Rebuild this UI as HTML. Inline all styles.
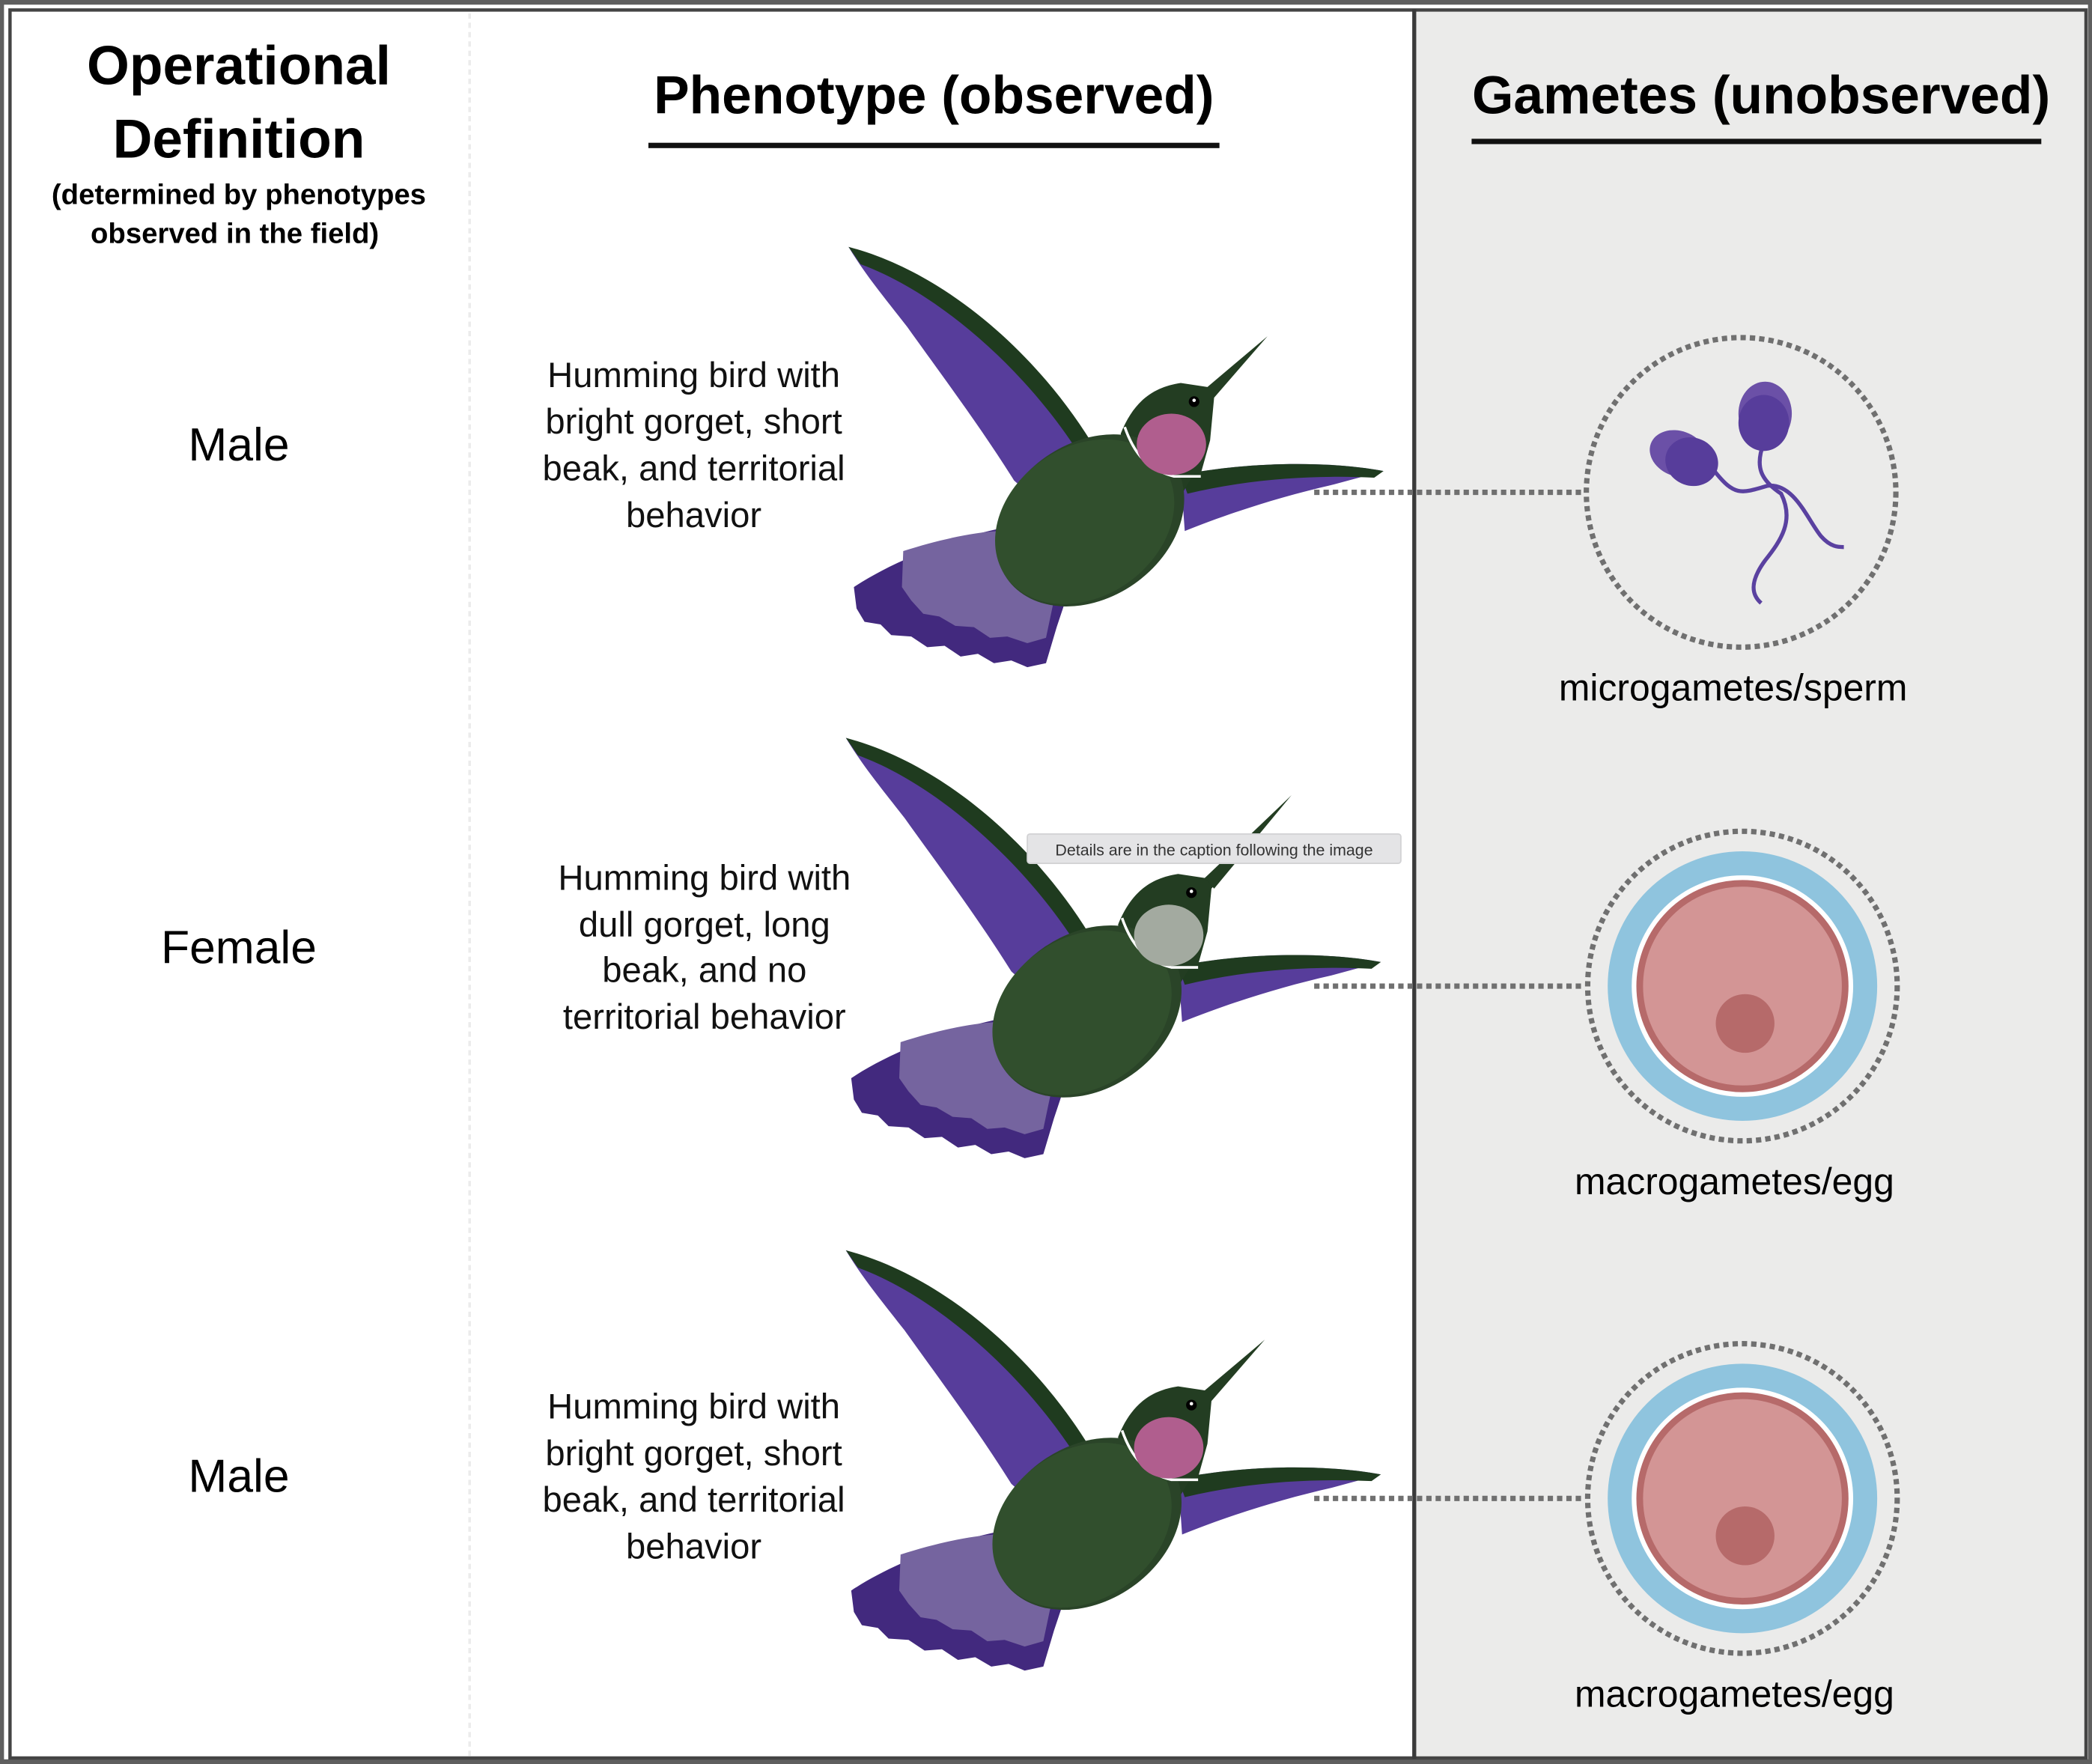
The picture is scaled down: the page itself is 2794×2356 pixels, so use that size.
<!DOCTYPE html>
<html><head><meta charset="utf-8"><style>
html,body{margin:0;padding:0;background:#fff}
svg{display:block}
text{font-family:"Liberation Sans","DejaVu Sans",sans-serif}
</style></head><body>
<svg width="2794" height="2356" viewBox="0 0 1568 1322" preserveAspectRatio="none" xmlns="http://www.w3.org/2000/svg">
<defs>
<g id="bird">
  <!-- upper wing -->
  <path d="M636,185 C710,210 780,270 822,338 L805,362 C790,372 770,370 760,360 C735,320 705,280 680,245 C662,222 648,205 636,185 Z" fill="#573d9b"/>
  <path d="M636,185 C712,205 782,270 822,338 L812,345 C772,280 705,220 645,198 Z" fill="#1f3b1f"/>
  <!-- tail -->
  <path d="M640,440 C670,420 715,403 750,396 L802,440 L792,470 L784,497 L770,500 L758,495 L745,497 L733,490 L720,492 L708,484 L695,485 L683,477 L668,476 L660,468 L648,466 L642,456 Z" fill="#42297e"/>
  <path d="M677,413 C705,404 730,399 748,398 L792,440 L784,478 L770,482 L755,477 L742,478 L730,470 L716,469 L704,462 L692,460 L683,450 L676,440 Z" fill="#75649f"/>
  <!-- right wing -->
  <path d="M885,356 C940,345 1000,346 1037,353 L1000,363 C960,372 920,385 888,398 Z" fill="#573d9b"/>
  <path d="M885,356 C940,345 1000,346 1037,353 L1030,358 C990,356 940,358 890,370 Z" fill="#1f3b1f"/>
  <!-- neck -->
  <path d="M810,338 L855,328 L895,355 L880,380 L840,365 Z" fill="#233d22"/>
  <!-- head -->
  <path d="M840,325 C850,300 865,290 885,287 L905,290 L950,252 L910,298 L907,330 L900,355 L870,356 L845,345 Z" fill="#233d22"/>
  <circle cx="895" cy="301" r="4" fill="#000"/><circle cx="895" cy="300" r="1.3" fill="#fff"/>
  <!-- body -->
  <ellipse cx="817" cy="390" rx="76" ry="58" transform="rotate(-35 817 390)" fill="#2a4428"/>
  <ellipse cx="813" cy="391" rx="72" ry="56" transform="rotate(-35 813 391)" fill="#314f2d"/>
  <path d="M843,320 C850,340 860,352 880,357 L900,357" fill="none" stroke="#fff" stroke-width="2"/>
</g>
</defs>
<rect x="0" y="0" width="1568" height="1322" fill="#5f5f5f"/>
<rect x="3" y="3.5" width="1562" height="1315" fill="#fff"/>
<rect x="1060" y="7" width="505" height="1311" fill="#ebebea"/>
<rect x="7.5" y="7.5" width="1556" height="1310" fill="none" stroke="#444" stroke-width="2.5"/>
<line x1="1060" y1="7" x2="1060" y2="1318" stroke="#3a3a3a" stroke-width="3"/>
<line x1="352" y1="10" x2="352" y2="1318" stroke="#ececec" stroke-width="2" stroke-dasharray="4,3"/>

<text x="179" y="63" font-size="41" font-weight="bold" text-anchor="middle">Operational</text>
<text x="179" y="118" font-size="41" font-weight="bold" text-anchor="middle">Definition</text>
<text x="179" y="153" font-size="21.5" font-weight="bold" text-anchor="middle">(determined by phenotypes</text>
<text x="176" y="182" font-size="21.5" font-weight="bold" text-anchor="middle">observed in the field)</text>

<text x="700" y="85" font-size="40" font-weight="bold" text-anchor="middle">Phenotype (observed)</text>
<rect x="486" y="107" width="428" height="4" fill="#111"/>
<text x="1320" y="85" font-size="40" font-weight="bold" text-anchor="middle">Gametes (unobserved)</text>
<rect x="1103" y="104" width="427" height="4" fill="#111"/>

<text x="179" y="345" font-size="35" text-anchor="middle">Male</text>
<text x="179" y="722" font-size="35" text-anchor="middle">Female</text>
<text x="179" y="1118" font-size="35" text-anchor="middle">Male</text>

<g font-size="26.5" text-anchor="middle" fill="#111">
<text x="520" y="290">Humming bird with</text>
<text x="520" y="325">bright gorget, short</text>
<text x="520" y="360">beak, and territorial</text>
<text x="520" y="395">behavior</text>
<text x="528" y="667">Humming bird with</text>
<text x="528" y="702">dull gorget, long</text>
<text x="528" y="736">beak, and no</text>
<text x="528" y="771">territorial behavior</text>
<text x="520" y="1063">Humming bird with</text>
<text x="520" y="1098">bright gorget, short</text>
<text x="520" y="1133">beak, and territorial</text>
<text x="520" y="1168">behavior</text>
</g>

<!-- connectors -->
<g stroke="#707070" stroke-width="4" stroke-dasharray="4,3">
<line x1="985" y1="369" x2="1188" y2="369"/>
<line x1="985" y1="739" x2="1188" y2="739"/>
<line x1="985" y1="1123" x2="1188" y2="1123"/>
</g>

<!-- birds -->
<use href="#bird"/>
<ellipse cx="878" cy="333" rx="26" ry="23" fill="#b05e8e"/>
<g transform="translate(-2,368)"><use href="#bird"/><ellipse cx="878" cy="333" rx="26" ry="23" fill="#a3aaa0"/>
<path d="M905,290 L970,228 L912,298 Z" fill="#233d22"/></g>
<g transform="translate(-2,752)"><use href="#bird"/><ellipse cx="878" cy="333" rx="26" ry="23" fill="#b05e8e"/></g>

<!-- tooltip -->
<rect x="770" y="625" width="280" height="22" rx="2" fill="#e4e4e6" stroke="#d2d2d4"/>
<text x="910" y="641" font-size="12" text-anchor="middle" fill="#333">Details are in the caption following the image</text>

<!-- sperm circle -->
<circle cx="1305" cy="369" r="116" fill="none" stroke="#707070" stroke-width="4" stroke-dasharray="4,3"/>
<g fill="none" stroke="#5a41a0" stroke-width="3">
<path d="M1285,353 C1300,372 1305,370 1325,364 C1345,362 1355,390 1365,402 C1372,410 1378,410 1382,410"/>
<path d="M1322,332 C1315,350 1320,360 1335,370 C1345,390 1335,405 1323,420 C1312,435 1312,445 1320,452"/>
</g>
<ellipse cx="1258" cy="340" rx="22" ry="17" transform="rotate(20 1258 340)" fill="#6b50a7"/>
<ellipse cx="1268" cy="346" rx="20" ry="18" transform="rotate(20 1268 346)" fill="#573d9b"/>
<ellipse cx="1323" cy="310" rx="20" ry="24" fill="#6b50a7"/>
<ellipse cx="1322" cy="317" rx="19" ry="21" fill="#573d9b"/>
<text x="1299" y="525" font-size="28" text-anchor="middle">microgametes/sperm</text>

<!-- eggs -->
<g>
<circle cx="1306" cy="739" r="116" fill="none" stroke="#707070" stroke-width="4" stroke-dasharray="4,3"/>
<circle cx="1306" cy="739" r="101" fill="#8fc4de"/>
<circle cx="1306" cy="739" r="83" fill="#fff"/>
<circle cx="1306" cy="739" r="77" fill="#d39595" stroke="#b66a6a" stroke-width="5"/>
<circle cx="1308" cy="767" r="22" fill="#b66a6a"/>
</g>
<text x="1300" y="895" font-size="28" text-anchor="middle">macrogametes/egg</text>
<g transform="translate(0,384)">
<circle cx="1306" cy="739" r="116" fill="none" stroke="#707070" stroke-width="4" stroke-dasharray="4,3"/>
<circle cx="1306" cy="739" r="101" fill="#8fc4de"/>
<circle cx="1306" cy="739" r="83" fill="#fff"/>
<circle cx="1306" cy="739" r="77" fill="#d39595" stroke="#b66a6a" stroke-width="5"/>
<circle cx="1308" cy="767" r="22" fill="#b66a6a"/>
</g>
<text x="1300" y="1279" font-size="28" text-anchor="middle">macrogametes/egg</text>
</svg>
</body></html>
